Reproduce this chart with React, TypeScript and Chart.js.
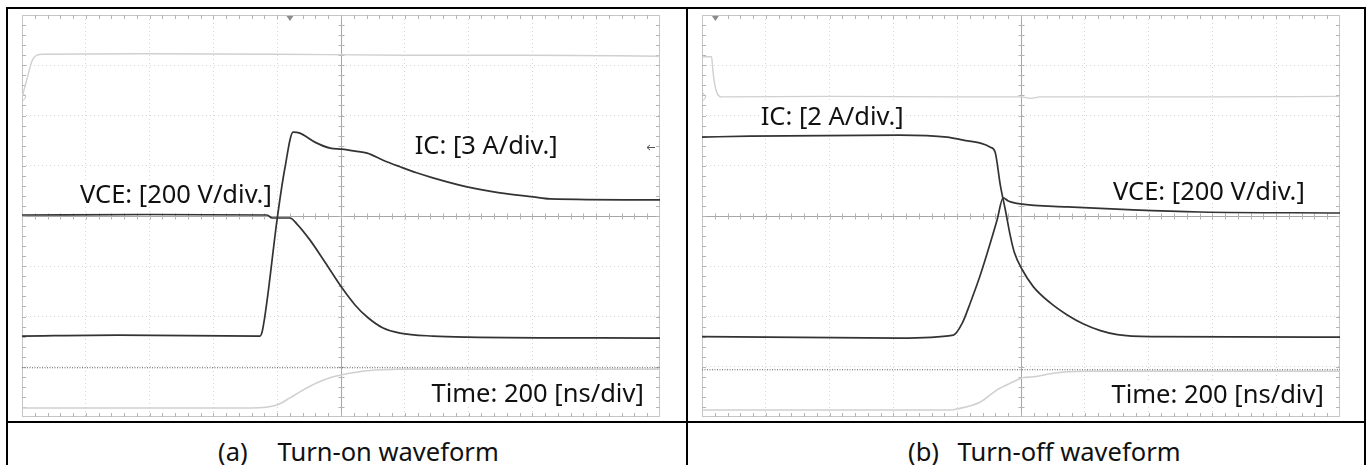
import React, { useEffect, useRef } from 'react';
import { Chart, registerables } from 'chart.js';

Chart.register(...registerables);

// ---------- data: time in ns (200 ns/div), level in screen divisions (0 = centre line) ----------
// (a) Turn-on
const onGateT = [0, 6, 19, 31, 41, 63, 400, 800, 1200, 1600, 2000];
const onGateV = [2.37, 2.5, 2.81, 3.08, 3.18, 3.22, 3.23, 3.22, 3.2, 3.2, 3.18];

const onIcT = [0, 300, 746, 753, 760, 771, 799, 824, 850, 871, 918, 966, 1003, 1044, 1082, 1132, 1185, 1237, 1288, 1395, 1498, 1602, 1655, 2000];
const onIcV = [-2.39, -2.37, -2.39, -2.3, -2.05, -1.55, -0.1, 0.95, 1.67, 1.65, 1.47, 1.35, 1.33, 1.29, 1.25, 1.11, 0.98, 0.86, 0.76, 0.58, 0.46, 0.38, 0.34, 0.32];

const onVceT = [0, 400, 768, 784, 840, 862, 903, 950, 1003, 1044, 1082, 1132, 1185, 1288, 1395, 2000];
const onVceV = [0.02, 0.03, 0.02, -0.04, -0.04, -0.16, -0.48, -0.92, -1.43, -1.77, -2.01, -2.23, -2.33, -2.39, -2.41, -2.43];

const onAuxT = [0, 720, 799, 840, 871, 925, 975, 1003, 1082, 1185, 1400, 2000];
const onAuxV = [-3.82, -3.82, -3.76, -3.62, -3.5, -3.32, -3.2, -3.16, -3.08, -3.05, -3.05, -3.05];

const onRefT = [0, 2000];
const onRefV = [-3.02, -3.02];

// (b) Turn-off
const offGateT = [0, 30, 34, 40, 47, 60, 400, 800, 1000, 1030, 1060, 1200, 1600, 2000];
const offGateV = [3.17, 3.17, 2.9, 2.62, 2.45, 2.37, 2.38, 2.37, 2.37, 2.34, 2.37, 2.37, 2.37, 2.38];

const offIcT = [0, 150, 620, 769, 819, 873, 904, 919, 935, 951, 966, 979, 1004, 1039, 1092, 1145, 1196, 1249, 1302, 1406, 2000];
const offIcV = [1.57, 1.59, 1.61, 1.57, 1.51, 1.45, 1.37, 1.27, 0.62, 0.12, -0.38, -0.72, -1.07, -1.41, -1.73, -1.97, -2.15, -2.28, -2.36, -2.4, -2.41];

const offVceT = [0, 620, 788, 816, 841, 870, 894, 925, 944, 960, 998, 1145, 1352, 1562, 2000];
const offVceV = [-2.4, -2.43, -2.37, -2.13, -1.73, -1.22, -0.74, -0.08, 0.36, 0.3, 0.24, 0.18, 0.12, 0.08, 0.06];

const offAuxT = [0, 780, 800, 873, 925, 976, 1004, 1039, 1092, 1145, 1208, 1500, 2000];
const offAuxV = [-3.86, -3.86, -3.84, -3.7, -3.46, -3.3, -3.22, -3.2, -3.14, -3.1, -3.09, -3.09, -3.09];

const offRefT = [0, 2000];
const offRefV = [-3.06, -3.06];

// screen grid
const X_MIN = 0;
const X_MAX = 2000;
const X_DIV = 200;
const Y_MIN = -4;
const Y_MAX = 4;
const MINOR = 5;

const TRIGGER_ON = 840;
const TRIGGER_OFF = 42;
const LEVEL_ON = 1.37;
const GATE_MARK_ON = 2.37;
const GATE_MARK_OFF = 2.37;

const PAD = 12;
const DARK = '#333333';
const LIGHT = '#d0d0d0';

type Trace = { t: number[]; v: number[]; color: string; width: number; dash?: number[] };

const scopeDecor = {
  id: 'scopeDecor',
  beforeDatasetsDraw(chart: any, _args: any, opts: any) {
    const { ctx, chartArea: a, scales } = chart;
    const x = scales.x;
    const y = scales.y;
    ctx.save();
    ctx.lineWidth = 1;
    // outer frame
    ctx.strokeStyle = '#c6c6c6';
    ctx.strokeRect(a.left + 0.5, a.top + 0.5, a.right - a.left - 1, a.bottom - a.top - 1);
    // centre cross
    const cx = Math.round(x.getPixelForValue((X_MIN + X_MAX) / 2)) + 0.5;
    const cy = Math.round(y.getPixelForValue((Y_MIN + Y_MAX) / 2)) + 0.5;
    ctx.strokeStyle = '#a6a6a6';
    ctx.beginPath();
    ctx.moveTo(cx, a.top);
    ctx.lineTo(cx, a.bottom);
    ctx.moveTo(a.left, cy);
    ctx.lineTo(a.right, cy);
    ctx.stroke();
    // minor ticks
    ctx.beginPath();
    const nx = ((X_MAX - X_MIN) / X_DIV) * MINOR;
    for (let i = 1; i < nx; i++) {
      const px = Math.round(x.getPixelForValue(X_MIN + (i * X_DIV) / MINOR)) + 0.5;
      ctx.moveTo(px, cy - 3);
      ctx.lineTo(px, cy + 3);
      ctx.moveTo(px, a.top);
      ctx.lineTo(px, a.top + 4);
      ctx.moveTo(px, a.bottom);
      ctx.lineTo(px, a.bottom - 4);
    }
    const ny = (Y_MAX - Y_MIN) * MINOR;
    for (let j = 1; j < ny; j++) {
      const py = Math.round(y.getPixelForValue(Y_MIN + j / MINOR)) + 0.5;
      ctx.moveTo(cx - 3, py);
      ctx.lineTo(cx + 3, py);
      ctx.moveTo(a.left, py);
      ctx.lineTo(a.left + 4, py);
      ctx.moveTo(a.right, py);
      ctx.lineTo(a.right - 4, py);
    }
    ctx.strokeStyle = '#b4b4b4';
    ctx.stroke();
    // trigger position marker
    if (opts.trigger != null) {
      const tx = x.getPixelForValue(opts.trigger);
      ctx.fillStyle = '#8c8c8c';
      ctx.beginPath();
      ctx.moveTo(tx - 3.5, a.top + 1);
      ctx.lineTo(tx + 3.5, a.top + 1);
      ctx.lineTo(tx, a.top + 6);
      ctx.closePath();
      ctx.fill();
    }
    // trigger level arrow
    if (opts.level != null) {
      const ly = Math.round(y.getPixelForValue(opts.level)) + 0.5;
      ctx.strokeStyle = '#555';
      ctx.beginPath();
      ctx.moveTo(a.right - 13, ly);
      ctx.lineTo(a.right - 5, ly);
      ctx.moveTo(a.right - 10, ly - 2.5);
      ctx.lineTo(a.right - 13, ly);
      ctx.lineTo(a.right - 10, ly + 2.5);
      ctx.stroke();
    }
    // channel marker
    if (opts.gate != null) {
      const gy = y.getPixelForValue(opts.gate);
      ctx.strokeStyle = '#c6c6c6';
      ctx.beginPath();
      ctx.moveTo(a.left + 1, gy - 4);
      ctx.lineTo(a.left + 4, gy);
      ctx.lineTo(a.left + 1, gy + 4);
      ctx.stroke();
    }
    ctx.restore();
  },
};

function gridColor(edgeA: number, edgeB: number, mid: number) {
  return (c: any) => {
    const v = c.tick ? c.tick.value : null;
    if (v === edgeA || v === edgeB || v === mid) return 'rgba(0,0,0,0)';
    return '#d4d4d4';
  };
}

function makeConfig(traces: Trace[], opts: any): any {
  return {
    type: 'line',
    data: {
      datasets: traces.map((s) => ({
        data: s.t.map((t, i) => ({ x: t, y: s.v[i] })),
        borderColor: s.color,
        borderWidth: s.width,
        borderDash: s.dash || [],
        pointRadius: 0,
        fill: false,
        cubicInterpolationMode: 'monotone',
      })),
    },
    options: {
      responsive: false,
      animation: false,
      events: [],
      layout: { padding: PAD },
      plugins: {
        legend: { display: false },
        tooltip: { enabled: false },
        title: { display: false },
        scopeDecor: opts,
      },
      scales: {
        x: {
          type: 'linear',
          min: X_MIN,
          max: X_MAX,
          ticks: { display: false, stepSize: X_DIV },
          grid: { color: gridColor(X_MIN, X_MAX, (X_MIN + X_MAX) / 2), drawTicks: false, lineWidth: 1 },
          border: { display: false, dash: [1, 3] },
        },
        y: {
          type: 'linear',
          min: Y_MIN,
          max: Y_MAX,
          ticks: { display: false, stepSize: 1 },
          grid: { color: gridColor(Y_MIN, Y_MAX, (Y_MIN + Y_MAX) / 2), drawTicks: false, lineWidth: 1 },
          border: { display: false, dash: [1, 3] },
        },
      },
    },
    plugins: [scopeDecor],
  };
}

function Scope(props: { left: number; top: number; w: number; h: number; traces: Trace[]; opts: any }) {
  const ref = useRef<HTMLCanvasElement | null>(null);
  useEffect(() => {
    if (!ref.current) return;
    const chart = new Chart(ref.current, makeConfig(props.traces, props.opts));
    return () => chart.destroy();
  }, []);
  return (
    <canvas
      ref={ref}
      width={props.w + PAD * 2}
      height={props.h + PAD * 2}
      style={{ position: 'absolute', left: props.left - PAD, top: props.top - PAD, width: props.w + PAD * 2, height: props.h + PAD * 2 }}
    />
  );
}

const FONT = '"Noto Sans", "Open Sans", sans-serif';
const FS = 25.5;

function Label(props: { x: number; y: number; text: string; bg?: boolean }) {
  return (
    <div
      style={{
        position: 'absolute',
        left: props.x,
        top: props.y,
        fontFamily: FONT,
        fontSize: FS,
        lineHeight: FS + 'px',
        whiteSpace: 'nowrap',
        color: '#111',
        background: props.bg ? '#fff' : 'transparent',
      }}
    >
      {props.text}
    </div>
  );
}

function Rule(props: { x: number; y: number; w: number; h: number }) {
  return <div style={{ position: 'absolute', left: props.x, top: props.y, width: props.w, height: props.h, background: '#000' }} />;
}

const onTraces: Trace[] = [
  { t: onGateT, v: onGateV, color: LIGHT, width: 1.4 },
  { t: onRefT, v: onRefV, color: '#5a5a5a', width: 1, dash: [1, 1.5] },
  { t: onAuxT, v: onAuxV, color: LIGHT, width: 1.6 },
  { t: onVceT, v: onVceV, color: DARK, width: 1.7 },
  { t: onIcT, v: onIcV, color: DARK, width: 1.7 },
];

const offTraces: Trace[] = [
  { t: offGateT, v: offGateV, color: LIGHT, width: 1.4 },
  { t: offRefT, v: offRefV, color: '#5a5a5a', width: 1, dash: [1, 1.5] },
  { t: offAuxT, v: offAuxV, color: LIGHT, width: 1.6 },
  { t: offVceT, v: offVceV, color: DARK, width: 1.7 },
  { t: offIcT, v: offIcV, color: DARK, width: 1.7 },
];

export default function App() {
  return (
    <div style={{ position: 'absolute', left: 0, top: 0, width: 1370, height: 465, background: '#fff', overflow: 'hidden' }}>
      <Scope left={22} top={15} w={638} h={402} traces={onTraces} opts={{ trigger: TRIGGER_ON, level: LEVEL_ON, gate: GATE_MARK_ON }} />
      <Scope left={702} top={15} w={638} h={402} traces={offTraces} opts={{ trigger: TRIGGER_OFF, gate: GATE_MARK_OFF }} />

      <Label x={80} y={181} text="VCE: [200 V/div.]" bg />
      <Label x={414.7} y={131.5} text="IC: [3 A/div.]" bg />
      <Label x={431.5} y={379.5} text="Time: 200 [ns/div]" bg />

      <Label x={760.7} y={102.5} text="IC: [2 A/div.]" bg />
      <Label x={1113} y={177.5} text="VCE: [200 V/div.]" bg />
      <Label x={1111.5} y={380.5} text="Time: 200 [ns/div]" bg />

      <Label x={218} y={439} text="(a)" />
      <Label x={277.5} y={439} text="Turn-on waveform" />
      <Label x={908} y={439} text="(b)" />
      <Label x={957.5} y={439} text="Turn-off waveform" />

      <Rule x={6} y={7} w={1360} h={2} />
      <Rule x={6} y={7} w={2} h={460} />
      <Rule x={686} y={7} w={2} h={460} />
      <Rule x={1364} y={7} w={2} h={460} />
      <Rule x={6} y={421} w={1360} h={2} />
    </div>
  );
}
